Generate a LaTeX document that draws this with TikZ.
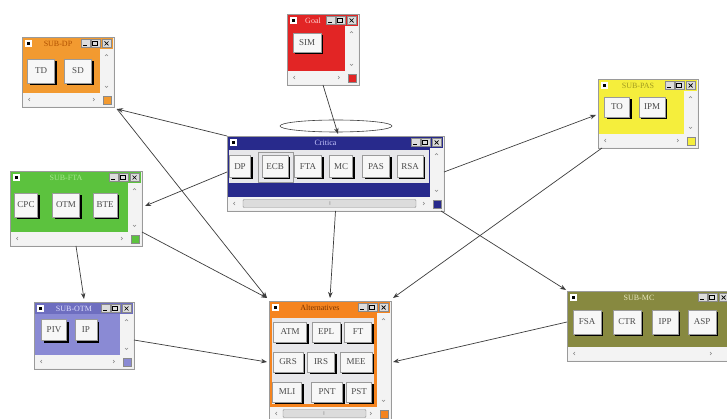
\documentclass[tikz,border=0pt]{standalone}
\usepackage{fontspec}
\setmainfont{Liberation Serif}
\usetikzlibrary{arrows.meta,shadows,shapes.geometric}
\definecolor{frame}{HTML}{EFEFEF}
\definecolor{framedraw}{HTML}{9A9A9A}
\definecolor{strip}{HTML}{F3F3F3}
\definecolor{markgrey}{HTML}{8A8A8A}
\definecolor{tbtn}{HTML}{DCDCDC}
\definecolor{btnface}{HTML}{F7F7F7}
\definecolor{btntext}{HTML}{4A4A4A}
\definecolor{panel}{HTML}{E7E7EA}
\definecolor{dpor}{HTML}{F29A30}
\definecolor{dptx}{HTML}{B05000}
\definecolor{goalred}{HTML}{E22525}
\definecolor{goaltx}{HTML}{FFD0D0}
\definecolor{critblue}{HTML}{282A8C}
\definecolor{crittx}{HTML}{C8C8FF}
\definecolor{pasyel}{HTML}{F5EE3C}
\definecolor{pastx}{HTML}{A09A20}
\definecolor{ftagr}{HTML}{5CC23E}
\definecolor{ftatx}{HTML}{A8E890}
\definecolor{otmtitle}{HTML}{6E6EC0}
\definecolor{otmbody}{HTML}{8A8AD4}
\definecolor{otmtx}{HTML}{E0E0FF}
\definecolor{altor}{HTML}{F5841F}
\definecolor{alttx}{HTML}{7A3400}
\definecolor{mcol}{HTML}{878940}
\definecolor{mctx}{HTML}{E8E8C0}
\definecolor{conn}{HTML}{3C3C3C}
\tikzset{
  winframe/.style={draw=framedraw, fill=frame, line width=0.6pt, inner sep=0pt, outer sep=0pt},
  ttl/.style={font=\fontsize{8}{8}\selectfont, inner sep=0pt},
  btn/.style={draw=framedraw, fill=btnface, line width=0.4pt, text=btntext, inner sep=0pt,
    font=\fontsize{9}{9}\selectfont,
    drop shadow={shadow xshift=2pt, shadow yshift=-2pt, opacity=1, fill=black}},
  link/.style={draw=conn, line width=0.7pt, -{Stealth[length=6pt,width=4.5pt]}}
}
% #1 name, #2 x1, #3 y1, #4 x2, #5 y2, #6 body colour, #7 title colour, #8 title text colour, #9 title
\newcommand\winbox[9]{%
  \node[winframe, anchor=north west, minimum width={#4-#2}, minimum height={#5-#3}] (#1) at (#2,#3) {};
  \fill[#7] ({#2+1},{#3+1}) rectangle ({#4-1},{#3+12});
  \fill[#6] ({#2+1},{#3+12}) rectangle ({#4-14},{#5-14});
  \fill[strip] ({#4-14},{#3+12}) rectangle ({#4-1},{#5-14});
  \fill[strip] ({#2+1},{#5-14}) rectangle ({#4-1},{#5-1});
  \fill[white] ({#2+3},{#3+3}) rectangle ({#2+10},{#3+10});
  \fill[black] ({#2+4.7},{#3+4.7}) rectangle ({#2+8.3},{#3+8.3});
  \node[ttl, text=#8] (#1-t) at ({(#2+#4)/2-10},{#3+6.8}) {#9};
  \foreach \o in {33,23,12} {
    \filldraw[fill=tbtn, draw=markgrey, line width=0.4pt] ({#4-\o},{#3+2.5}) rectangle ({#4-\o+9},{#3+10.5});
  }
  \draw[black, line width=1pt] ({#4-31},{#3+8.3}) -- ({#4-27},{#3+8.3});
  \draw[black, line width=0.6pt] ({#4-21.5},{#3+4.5}) rectangle ({#4-16.5},{#3+8.5});
  \draw[black, line width=0.7pt] ({#4-9.5},{#3+4.5}) -- ({#4-5.5},{#3+8.5}) ({#4-9.5},{#3+8.5}) -- ({#4-5.5},{#3+4.5});
  \draw[markgrey, line width=0.4pt] ({#4-9},{#3+19}) -- ({#4-7.5},{#3+17.5}) -- ({#4-6},{#3+19});
  \draw[markgrey, line width=0.4pt] ({#4-9},{#5-21}) -- ({#4-7.5},{#5-19.5}) -- ({#4-6},{#5-21});
  \draw[markgrey, line width=0.4pt] ({#2+8},{#5-9}) -- ({#2+6.5},{#5-7.5}) -- ({#2+8},{#5-6});
  \draw[markgrey, line width=0.4pt] ({#4-21},{#5-9}) -- ({#4-19.5},{#5-7.5}) -- ({#4-21},{#5-6});
  \filldraw[fill=#6, draw=markgrey, line width=0.3pt] ({#4-11},{#5-11}) rectangle ({#4-3},{#5-3});
}
\begin{document}
\begin{tikzpicture}[x=1pt,y=-1pt]
\useasboundingbox (0,0) rectangle (727,419);
\clip (0,0) rectangle (727,419);
\fill[white] (0,0) rectangle (727,419);

% SUB-DP
\winbox{dp}{22}{37}{114}{107}{dpor}{dpor}{dptx}{SUB-DP}
\node[btn, minimum width=27, minimum height=24] (td) at (41,71) {TD};
\node[btn, minimum width=27, minimum height=24] (sd) at (78,71) {SD};

% Goal
\winbox{goal}{287}{14}{359}{85}{goalred}{goalred}{goaltx}{Goal}
\node[btn, minimum width=28, minimum height=19] (sim) at (307,43) {SIM};

% Critica
\winbox{crit}{227}{136}{444}{211}{critblue}{critblue}{crittx}{Critica}
\fill[panel] (229,150) rectangle (429,183);
\draw[framedraw, line width=0.5pt] (258,152) rectangle (293,182);
\node[btn, minimum width=21, minimum height=22] (cdp) at (240,166.5) {DP};
\node[btn, minimum width=26, minimum height=22] (ecb) at (275,166.5) {ECB};
\node[btn, minimum width=27, minimum height=22] (fta1) at (308,166.5) {FTA};
\node[btn, minimum width=23, minimum height=22] (cmc) at (341,166.5) {MC};
\node[btn, minimum width=27, minimum height=22] (pas1) at (376,166.5) {PAS};
\node[btn, minimum width=26, minimum height=22] (rsa) at (410,166.5) {RSA};
\filldraw[fill=tbtn, draw=markgrey, line width=0.4pt, rounded corners=1pt] (243,199.5) rectangle (416,207.5);
\node[font=\fontsize{4}{4}\selectfont, text=markgrey, inner sep=0pt] (cthumb) at (330,203.5) {|||};

% SUB-PAS
\winbox{pas}{598}{79}{698}{148}{pasyel}{pasyel}{pastx}{SUB-PAS}
\node[btn, minimum width=25, minimum height=20] (to) at (617,107) {TO};
\node[btn, minimum width=26, minimum height=20] (ipm) at (652,107) {IPM};

% SUB-FTA
\winbox{fta}{10}{171}{142}{246}{ftagr}{ftagr}{ftatx}{SUB-FTA}
\node[btn, minimum width=23, minimum height=24] (cpc) at (26,205) {CPC};
\node[btn, minimum width=27, minimum height=24] (otm1) at (66,205) {OTM};
\node[btn, minimum width=24, minimum height=24] (bte) at (105,205) {BTE};

% SUB-OTM
\winbox{otm}{34}{302}{134}{369}{otmbody}{otmtitle}{otmtx}{SUB-OTM}
\node[btn, minimum width=25, minimum height=21] (piv) at (54,330) {PIV};
\node[btn, minimum width=22, minimum height=21] (ip) at (86,330) {IP};

% Alternatives
\winbox{alt}{269}{301}{391}{421}{altor}{altor}{alttx}{Alternatives}
\fill[panel] (272,318) rectangle (374,404);
\filldraw[fill=tbtn, draw=markgrey, line width=0.4pt, rounded corners=1pt] (283,409.5) rectangle (366,417.5);
\node[font=\fontsize{4}{4}\selectfont, text=markgrey, inner sep=0pt] (athumb) at (324,413.5) {|||};
\node[btn, minimum width=33, minimum height=20] (atm) at (290,332) {ATM};
\node[btn, minimum width=28, minimum height=20] (epl) at (326,332) {EPL};
\node[btn, minimum width=27, minimum height=20] (ft) at (358,332) {FT};
\node[btn, minimum width=30, minimum height=20] (grs) at (288,362) {GRS};
\node[btn, minimum width=27, minimum height=20] (irs) at (321,362) {IRS};
\node[btn, minimum width=32, minimum height=20] (mee) at (356,362) {MEE};
\node[btn, minimum width=29, minimum height=20] (mli) at (287,392) {MLI};
\node[btn, minimum width=31, minimum height=20] (pnt) at (327,392) {PNT};
\node[btn, minimum width=25, minimum height=20] (pst) at (359,392) {PST};

% SUB-MC
\winbox{mc}{567}{291}{731}{361}{mcol}{mcol}{mctx}{SUB-MC}
\fill[mcol] (716,303) rectangle (727,347);
\fill[strip] (716,347) rectangle (727,360);
\node[btn, minimum width=28, minimum height=24] (fsa) at (587,322) {FSA};
\node[btn, minimum width=28, minimum height=24] (ctr) at (627,322) {CTR};
\node[btn, minimum width=26, minimum height=24] (ipp) at (665,322) {IPP};
\node[btn, minimum width=28, minimum height=24] (asp) at (702,322) {ASP};

% loop oval
\node[draw=black!75, line width=0.6pt, ellipse, minimum width=112pt, minimum height=12pt, inner sep=0pt] (loop) at (336,126) {};

% connectors
\coordinate (dpc) at ([xshift=3pt,yshift=-2pt]dp.south east);
\coordinate (altnw) at ([xshift=-2pt,yshift=3pt]alt.north west);
\draw[link] (goal.south) -- ([xshift=2.5pt,yshift=2pt]crit.north);
\draw[link] (crit.north west) -- (dpc);
\draw[link] (dpc) -- (altnw);
\draw[link] ([yshift=-36pt]crit.north west) -- ([xshift=3pt,yshift=-35pt]fta.north east);
\draw[link] (fta.south) -- ([yshift=3pt]otm.north);
\draw[link] ([yshift=14pt]fta.south east) -- (altnw);
\draw[link] (crit.south) -- ([yshift=3pt]alt.north);
\draw[link] ([yshift=-36pt]crit.north east) -- ([xshift=-2pt,yshift=-36pt]pas.north west);
\draw[link] ([xshift=4pt]pas.south west) -- ([xshift=2pt,yshift=3pt]alt.north east);
\draw[link] ([xshift=-3pt]crit.south east) -- ([xshift=-1pt,yshift=1pt]mc.north west);
\draw[link] ([yshift=-38pt]otm.north east) -- ([xshift=-2pt,yshift=-61pt]alt.north west);
\draw[link] ([yshift=-31pt]mc.north west) -- ([xshift=2pt,yshift=-61pt]alt.north east);
\end{tikzpicture}
\end{document}
